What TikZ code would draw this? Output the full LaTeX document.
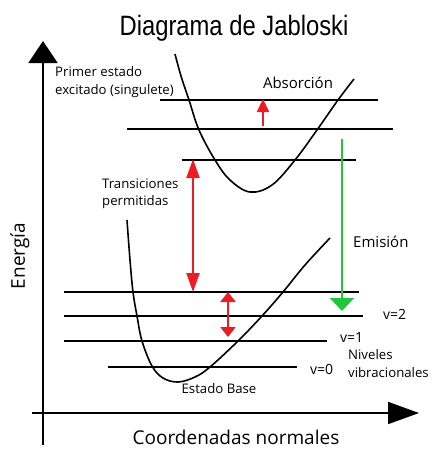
\documentclass[tikz,border=0pt]{standalone}
\usepackage{fontspec}
\setmainfont{Open Sans}
\newfontfamily\titlefont{Liberation Sans}
\usetikzlibrary{arrows.meta}
\definecolor{rojo}{RGB}{237,28,36}
\definecolor{verde}{RGB}{34,197,62}

\begin{document}
\begin{tikzpicture}[x=1pt,y=-1pt,
    nivel/.style={line width=1.8pt},
    curva/.style={line width=1.6pt},
    eje/.style={line width=1.8pt},
    etiqueta/.style={inner sep=0pt,font=\fontsize{13.2}{15}\selectfont},
    flecharoja/.style={rojo,line width=2.2pt}]
					\useasboundingbox (0,0) rectangle (432,451);
					% ejes
					\coordinate (o1) at (43,445);
					\coordinate (o2) at (43,41);
					\coordinate (o3) at (32,413);
					\coordinate (o4) at (419,413);
					\draw[eje,-{Triangle[width=29pt,length=22pt]}] (o1) -- (o2);
					\draw[eje,-{Triangle[width=22pt,length=31pt]}] (o3) -- (o4);
					\node[inner sep=0pt,font=\titlefont\fontsize{28}{30}\selectfont] (titulo) at (234,28) {\scalebox{0.85}[1]{Diagrama de Jabloski}};
					\node[inner sep=0pt,rotate=90,font=\fontsize{19}{21}\selectfont] (energia) at (20,256) {Energía};
					\node[inner sep=0pt,font=\fontsize{19}{21}\selectfont] (coord) at (236,437) {Coordenadas normales};
					% estado excitado
					\draw[curva] plot[smooth,tension=0.6] coordinates {(175,54) (181,76) (189,100) (199,130) (215,160) (230,180) (250,192) (272,185) (295,160) (317,130) (338,100) (354,79)};
					\draw[nivel] (160,100) -- (378,100);
					\draw[nivel] (127,129) -- (393,129);
					\draw[nivel] (182,160) -- (356,160);
					% estado base
					\draw[curva] plot[smooth,tension=0.6] coordinates {(127,220) (130,260) (133,292) (137,316) (142,341) (152,366) (163,378) (178,382) (195,377) (210,367) (238,341) (262,316) (283,292) (305,265) (330,238)};
					\draw[nivel] (64,292) -- (359,292);
					\draw[nivel] (64,316) -- (363,316);
					\draw[nivel] (64,341) -- (327,341);
					\draw[nivel] (108,367) -- (297,367);
					% flechas
					\coordinate (a1) at (263,126);
					\coordinate (a2) at (263,99);
					\draw[flecharoja,-{Triangle[width=12pt,length=13pt]}] (a1) -- (a2);
					\coordinate (t1) at (193,159);
					\coordinate (t2) at (193,292);
					\draw[flecharoja,{Triangle[width=13pt,length=19pt]}-{Triangle[width=13pt,length=19pt]}] (t1) -- (t2);
					\coordinate (v1) at (228,292);
					\coordinate (v2) at (228,337);
					\draw[flecharoja,{Triangle[width=15pt,length=10pt]}-{Triangle[width=15pt,length=10pt]}] (v1) -- (v2);
					\coordinate (e1) at (342,139);
					\coordinate (e2) at (342,311);
					\draw[verde,line width=2.2pt,-{Triangle[width=24pt,length=13pt]}] (e1) -- (e2);
					% textos
					\node[etiqueta,anchor=west] (primer) at (55,72) {Primer estado};
					\node[etiqueta,anchor=west] (excitado) at (55,91) {excitado (singulete)};
					\node[etiqueta,font=\fontsize{15}{17}\selectfont] (absorcion) at (298,83) {Absorción};
					\node[etiqueta,anchor=west] (trans) at (102,184) {Transiciones};
					\node[etiqueta,anchor=west] (perm) at (102,202) {permitidas};
					\node[etiqueta,anchor=west,font=\fontsize{15}{17}\selectfont] (emision) at (353,242) {Emisión};
					\node[etiqueta,anchor=west,font=\fontsize{14}{16}\selectfont] (vdos) at (383,314) {v=2};
					\node[etiqueta,anchor=west,font=\fontsize{14}{16}\selectfont] (vuno) at (340,337) {v=1};
					\node[etiqueta,anchor=west,font=\fontsize{14}{16}\selectfont] (vcero) at (310,369) {v=0};
					\node[etiqueta,anchor=west] (niveles) at (348,355) {Niveles};
					\node[etiqueta,anchor=west] (vibra) at (348,373) {vibracionales};
					\node[etiqueta] (base) at (219,389) {Estado Base};
				\end{tikzpicture}
\end{document}
